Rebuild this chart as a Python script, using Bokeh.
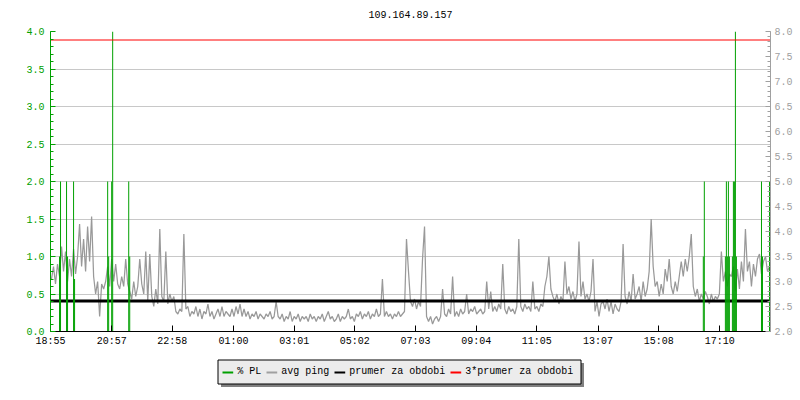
from bokeh.plotting import figure
from bokeh.models import Range1d, LinearAxis, FixedTicker, PrintfTickFormatter, ColumnDataSource
from bokeh.layouts import column
from bokeh.embed import file_html
from bokeh.resources import INLINE
from bokeh.core.properties import value

# ---------------- data ----------------
TITLE = "109.164.89.157"
TIME_LABELS = ["18:55", "20:57", "22:58", "01:00", "03:01", "05:02",
               "07:03", "09:04", "11:05", "13:07", "15:08", "17:10"]
PERIOD_MIN = 1436          # length of the period shown, minutes
SAMPLE_STEP_MIN = 4        # ping sample spacing, minutes

# avg ping (ms, right axis)
PING_MS = [
    3.05, 3.3, 2.95, 3.35, 3.1, 3.7,
    3.2, 3.6, 3.0, 3.45, 3.1, 3.65, 3.15, 3.5,
    4.15, 3.3, 3.85, 3.2, 4.1, 3.4, 4.3,
    3.1, 2.75, 3.0,
    2.3,
    2.95, 2.85, 3.0,
    3.3, 2.9, 3.45, 3.0, 3.35,
    2.95, 2.85, 3.1, 2.9, 3.45, 2.95,
    2.8, 2.65, 3.0, 2.7, 2.9, 3.45, 2.95, 2.75, 3.6,
    2.6, 3.55, 2.7, 2.5, 2.85, 2.55, 4.05, 2.7,
    2.6, 3.6, 2.55, 2.75, 2.6, 2.7,
    2.4, 2.35, 2.45, 2.4,
    3.95,
    2.45, 2.5, 2.3, 2.4, 2.35, 2.5, 2.3, 2.45, 2.25, 2.4, 2.35, 2.55,
    2.3, 2.4, 2.25, 2.35, 2.45, 2.3, 2.5, 2.3, 2.4, 2.35, 2.3,
    2.45, 2.3, 2.5, 2.35, 2.55, 2.3, 2.45, 2.3, 2.4, 2.25, 2.35, 2.3,
    2.4, 2.25, 2.35, 2.3, 2.25, 2.35, 2.3, 2.4, 2.25, 2.3, 2.6, 2.3,
    2.25, 2.35, 2.2, 2.3, 2.25, 2.4, 2.2, 2.3, 2.25, 2.35, 2.2, 2.3,
    2.25, 2.3, 2.2, 2.35, 2.25, 2.3, 2.2, 2.3, 2.25, 2.35, 2.2, 2.3,
    2.4, 2.25, 2.3, 2.2, 2.25, 2.35, 2.2, 2.3, 2.25, 2.3, 2.45, 2.25,
    2.3, 2.2, 2.35, 2.3, 2.4, 2.25, 2.35, 2.3, 2.4, 2.25, 2.35, 2.3,
    2.45, 2.3, 2.35, 3.05, 2.3, 2.4, 2.3, 2.35, 2.25, 2.35, 2.3, 2.4,
    2.3, 2.35, 2.4, 3.85,
    3.2, 2.6, 2.5, 2.65, 2.45, 2.6, 2.5, 3.45,
    4.1,
    2.3, 2.2, 2.3, 2.15, 2.25, 2.3, 2.2, 2.3, 2.85,
    2.35, 2.3, 2.45, 2.35, 3.1, 2.3, 2.4, 2.3, 2.45, 2.35, 2.4, 2.75,
    2.35, 2.45, 2.4, 2.5, 2.35,
    2.4, 2.45, 2.35, 2.4, 3.0,
    2.45, 2.8, 2.4, 2.5, 2.4, 2.55, 2.45, 3.35,
    2.45, 2.35, 2.5, 2.4, 2.45, 2.35, 2.5,
    3.85,
    2.5, 2.4, 2.55, 2.45, 2.5, 2.4, 3.0, 2.45, 2.5, 2.4, 2.55, 2.5,
    2.9, 3.1, 3.5, 2.85,
    2.7, 2.6, 2.75, 2.55, 2.7, 2.6,
    3.4,
    2.75, 2.9, 2.65, 2.8, 2.6, 2.75,
    3.8,
    2.7, 3.0, 2.65, 2.75, 2.6, 2.8, 3.45,
    2.4, 2.6, 2.3, 2.55,
    2.6, 2.45, 2.65, 2.4, 2.6, 2.35, 2.55, 2.45, 2.4, 2.6,
    3.75,
    2.7, 2.55, 2.8, 2.6, 3.15, 2.65, 2.75,
    2.9, 2.6, 3.0, 2.7, 2.85,
    3.2, 4.25, 3.3,
    2.9, 3.0, 2.7, 2.95, 2.75,
    3.25, 3.0, 3.45,
    2.9, 2.75, 3.0, 2.8, 3.1,
    3.4, 3.1, 3.45, 3.2, 3.5,
    3.95,
    2.9, 2.7, 2.85, 2.6, 2.75, 2.65, 2.8,
    2.7, 2.55, 2.75, 2.6, 2.7, 2.65, 2.75,
    3.6, 3.0, 3.2, 2.9, 3.15,
    3.1, 3.3, 2.8, 3.25, 2.85, 3.4, 3.0,
    4.05,
    3.2, 3.4, 2.9, 3.35, 3.1, 3.45, 3.55, 3.15, 3.4,
    3.5, 3.2, 3.3,
]

# packet loss (% , left axis) - only non-zero samples
PL_TIME_MIN = [18, 20, 32, 34, 46, 48, 114, 116, 122, 124, 156, 158,
               1302, 1304, 1346, 1348, 1350, 1352, 1354,
               1360, 1362, 1364, 1366, 1368, 1418, 1420, 1434]
PL_PCT = [1.0, 2.0, 2.0, 1.0, 2.0, 0.7, 2.0, 1.0, 2.0, 4.0, 2.0, 1.0,
          1.0, 2.0, 1.0, 2.0, 1.0, 2.0, 1.0,
          1.0, 2.0, 2.0, 4.0, 1.0, 2.0, 1.0, 2.0]

PRUMER = 2.61   # average over the period (ms)

LEGEND_LABELS = ["% PL", "avg ping", "prumer za obdobi", "3*prumer za obdobi"]

# ---------------- style ----------------
FONT = "Liberation Mono"
GREEN = "#00a000"
GRAY = "#999999"
AXIS_GRAY = "#a0a0a0"
GRID = "#c8c8c8"
LEGEND_COLORS = [GREEN, "#a0a0a0", "black", "red"]

W = 796
FL, FR = 50, 26          # frame borders (left/right)
TH = 23                  # title strip height
MAIN_TOP = 8             # border above the chart frame (room for top tick labels)


def to_min(lbl):
    h, m = lbl.split(":")
    return int(h) * 60 + int(m)


def strip(height):
    """Figure without axes whose data coordinates are page pixels
    (x: page x, y: pixels down from the strip top)."""
    f = figure(width=W, height=height, x_range=Range1d(FL, W - FR), y_range=Range1d(height, 0),
               output_backend="svg", toolbar_location=None,
               x_axis_location=None, y_axis_location=None,
               min_border_left=FL, min_border_right=FR, min_border_top=0, min_border_bottom=0)
    f.outline_line_color = None
    f.grid.visible = False
    f.background_fill_color = "white"
    f.border_fill_color = "white"
    return f


base = to_min(TIME_LABELS[0])
tick_pos = [(to_min(l) - base) % 1440 for l in TIME_LABELS]
times = [SAMPLE_STEP_MIN // 2 + SAMPLE_STEP_MIN * i for i in range(len(PING_MS))]

# ---------------- title strip ----------------
tt = strip(TH)
tt.text(x=[(FL + W - FR) / 2], y=[13.5], text=[TITLE], text_font=value(FONT),
        text_font_size="10px", text_align="center", text_baseline="middle", text_color="black")

# ---------------- main chart ----------------
p = figure(width=W, height=MAIN_TOP + 300 + 22, x_range=Range1d(0, PERIOD_MIN), y_range=Range1d(0, 4),
           output_backend="svg", toolbar_location=None,
           min_border_left=FL, min_border_right=FR, min_border_top=MAIN_TOP, min_border_bottom=22)
p.extra_y_ranges = {"ping": Range1d(2, 8)}
p.outline_line_color = None
p.background_fill_color = "white"
p.border_fill_color = "white"

p.xgrid.visible = False
p.ygrid.ticker = FixedTicker(ticks=[k * 0.5 for k in range(9)])
p.ygrid.grid_line_color = GRID
p.ygrid.grid_line_width = 1

# left axis (% PL)
ya = p.yaxis[0]
ya.ticker = FixedTicker(ticks=[k * 0.5 for k in range(9)],
                        minor_ticks=[round(k * 0.1, 1) for k in range(41)])
ya.formatter = PrintfTickFormatter(format="%.1f")
for attr in ("axis_line_color", "major_tick_line_color", "minor_tick_line_color"):
    setattr(ya, attr, GREEN)
ya.major_tick_in = 5
ya.major_tick_out = 0
ya.minor_tick_in = 3
ya.minor_tick_out = 0
ya.major_label_text_color = GREEN
ya.major_label_text_font = FONT
ya.major_label_text_font_size = "10px"
ya.major_label_standoff = 6

# right axis (ping)
ra = LinearAxis(y_range_name="ping",
                ticker=FixedTicker(ticks=[2 + k * 0.5 for k in range(13)],
                                   minor_ticks=[round(2 + k * 0.1, 1) for k in range(61)]),
                formatter=PrintfTickFormatter(format="%.1f"))
for attr in ("axis_line_color", "major_tick_line_color", "minor_tick_line_color"):
    setattr(ra, attr, AXIS_GRAY)
ra.major_tick_in = 5
ra.major_tick_out = 0
ra.minor_tick_in = 3
ra.minor_tick_out = 0
ra.major_label_text_color = AXIS_GRAY
ra.major_label_text_font = FONT
ra.major_label_text_font_size = "10px"
ra.major_label_standoff = 4
p.add_layout(ra, "right")

# bottom axis (time)
xa = p.xaxis[0]
xa.ticker = FixedTicker(ticks=tick_pos)
xa.major_label_overrides = {t: l for t, l in zip(tick_pos, TIME_LABELS)}
xa.minor_tick_line_color = None
xa.axis_line_color = "black"
xa.major_tick_line_color = "black"
xa.major_tick_in = 6
xa.major_tick_out = 0
xa.major_label_text_font = FONT
xa.major_label_text_font_size = "10px"
xa.major_label_text_color = "black"
xa.major_label_standoff = 4

# glyphs
src = ColumnDataSource(dict(t=times, ping=PING_MS))
p.line("t", "ping", source=src, y_range_name="ping", line_color=GRAY, line_width=1.25)
p.segment(x0=[0], x1=[PERIOD_MIN], y0=[PRUMER], y1=[PRUMER], y_range_name="ping",
          line_color="black", line_width=3)
p.vbar(x=PL_TIME_MIN, top=PL_PCT, bottom=0, width=2, fill_color=GREEN, line_color=None)
p.segment(x0=[0], x1=[PERIOD_MIN], y0=[3 * PRUMER], y1=[3 * PRUMER], y_range_name="ping",
          line_color="red", line_width=1)

# ---------------- legend strip ----------------
LH = 40
lg = strip(LH)
bx0, bx1, by0, by1 = 217.5, 580.5, 6.5, 30.5
lg.quad(left=[bx0 + 3], right=[bx1 + 3], top=[by0 + 3], bottom=[by1 + 3],
        fill_color="#808080", line_color=None)
lg.quad(left=[bx0], right=[bx1], top=[by0], bottom=[by1],
        fill_color="#ececec", line_color="black", line_width=1)

CHAR_W = 6.0
x = 222.0
sw_x0, sw_x1, tx = [], [], []
for lbl in LEGEND_LABELS:
    sw_x0.append(x)
    sw_x1.append(x + 10.7)
    tx.append(x + 14.7)
    x = x + 14.7 + CHAR_W * len(lbl) + 5.3
lg.segment(x0=sw_x0, x1=sw_x1, y0=[19] * 4, y1=[19] * 4, line_color=LEGEND_COLORS, line_width=2)
lg.text(x=tx, y=[18] * 4, text=LEGEND_LABELS, text_font=value(FONT), text_font_size="10px",
        text_baseline="middle", text_align="left", text_color="black")

layout = column(tt, p, lg, spacing=0)
open("out.html", "w").write(file_html(layout, INLINE))
